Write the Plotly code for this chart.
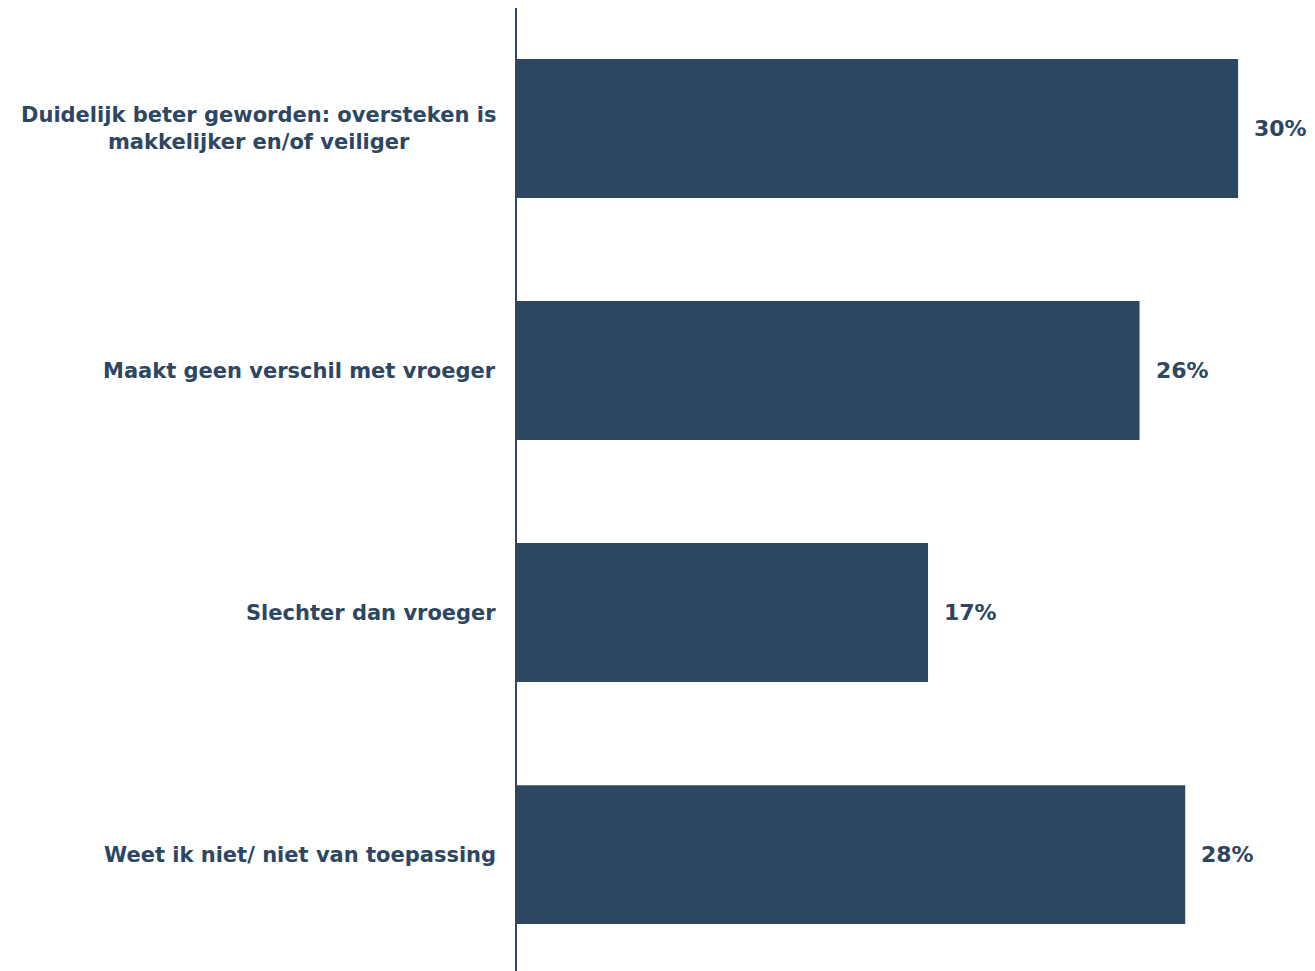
import plotly.graph_objects as go

categories = [
    "Duidelijk beter geworden: oversteken is<br>makkelijker en/of veiliger",
    "Maakt geen verschil met vroeger",
    "Slechter dan vroeger",
    "Weet ik niet/ niet van toepassing",
]
values = [30.0, 25.9, 17.1, 27.8]
value_labels = ["30%", "26%", "17%", "28%"]

color = "#2D4661"
font_family = "DejaVu Sans, Verdana, sans-serif"
lab_font = dict(family=font_family, size=21, color=color, weight="bold")
num_font = dict(family=font_family, size=22, color=color, weight="bold")

fig = go.Figure(go.Bar(
    x=values,
    y=categories,
    orientation="h",
    marker=dict(color=color, line=dict(width=0)),
    width=0.574,
    hoverinfo="skip",
))

for v, lab, cat in zip(values, value_labels, categories):
    fig.add_annotation(x=v, y=cat, text=lab, showarrow=False, xanchor="left",
                       xshift=14, font=num_font)

for cat in categories:
    fig.add_annotation(x=0, xref="paper", y=cat, yref="y", text=cat, showarrow=False,
                       xanchor="right", align="center", xshift=-19, font=lab_font)

fig.update_layout(
    width=1307, height=963,
    margin=dict(l=509, r=0, t=0, b=0, autoexpand=False),
    plot_bgcolor="white", paper_bgcolor="white",
    showlegend=False,
    font=lab_font,
)
fig.update_xaxes(range=[0, 33.2], visible=False, showgrid=False, automargin=False)
fig.update_yaxes(
    range=[3.481, -0.498], automargin=False,
    showline=True, linecolor=color, linewidth=2,
    showgrid=False, ticks="", showticklabels=False,
)

fig.write_html("out.html")
